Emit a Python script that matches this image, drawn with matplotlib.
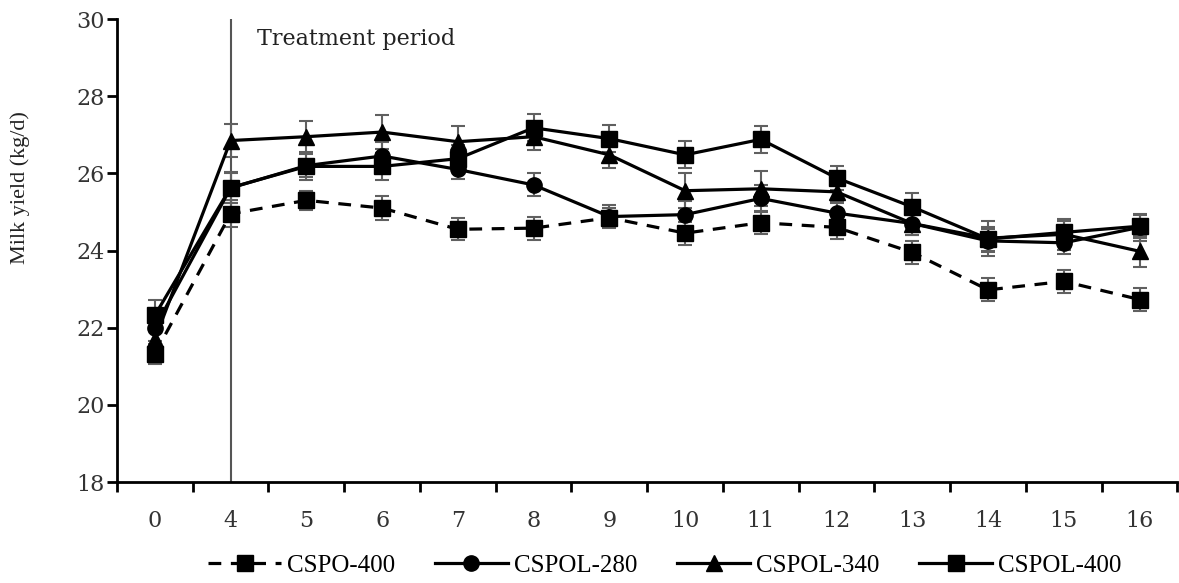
import matplotlib
matplotlib.use("Agg")
import matplotlib.pyplot as plt
import numpy as np

plt.rcParams['font.family'] = ['Liberation Serif', 'DejaVu Serif']

weeks = ["0", "4", "5", "6", "7", "8", "9", "10", "11", "12", "13", "14", "15", "16"]

cspo_400 = [21.32, 24.95, 25.3, 25.1, 24.55, 24.58, 24.85, 24.45, 24.72, 24.6, 23.95, 22.98, 23.2, 22.73]
cspo_400_se = [0.25, 0.35, 0.25, 0.3, 0.28, 0.3, 0.25, 0.3, 0.3, 0.3, 0.3, 0.3, 0.3, 0.3]

cspol_280 = [22.0, 25.62, 26.2, 26.45, 26.1, 25.7, 24.88, 24.93, 25.35, 24.97, 24.7, 24.25, 24.2, 24.6]
cspol_280_se = [0.35, 0.4, 0.3, 0.35, 0.25, 0.3, 0.3, 0.35, 0.35, 0.3, 0.3, 0.3, 0.3, 0.35]

cspol_340 = [21.7, 26.85, 26.95, 27.07, 26.82, 26.95, 26.48, 25.55, 25.6, 25.52, 24.7, 24.32, 24.42, 23.98]
cspol_340_se = [0.35, 0.42, 0.4, 0.45, 0.42, 0.35, 0.35, 0.45, 0.45, 0.3, 0.3, 0.45, 0.4, 0.4]

cspol_400 = [22.32, 25.63, 26.18, 26.18, 26.38, 27.18, 26.9, 26.48, 26.88, 25.88, 25.13, 24.3, 24.47, 24.63]
cspol_400_se = [0.4, 0.4, 0.35, 0.35, 0.35, 0.35, 0.35, 0.35, 0.35, 0.3, 0.35, 0.3, 0.3, 0.3]

fig = plt.figure(figsize=(11.79, 5.83), dpi=100)
ax = fig.add_axes([0.0992, 0.1732, 0.8995, 0.7942])

x = np.arange(len(weeks))
err_color = "#606060"

series = [
    ("CSPO-400", cspo_400, cspo_400_se, "s", (0, (4, 3))),
    ("CSPOL-280", cspol_280, cspol_280_se, "o", "-"),
    ("CSPOL-340", cspol_340, cspol_340_se, "^", "-"),
    ("CSPOL-400", cspol_400, cspol_400_se, "s", "-"),
]

handles = []
for name, vals, se, mk, ls in series:
    ax.errorbar(x, vals, yerr=se, fmt="none", ecolor=err_color, elinewidth=1.5,
                capsize=5, capthick=1.5, zorder=2)
    ms = 12 if mk in ("s", "^") else 11
    h, = ax.plot(x, vals, color="black", linestyle=ls, linewidth=2.3, marker=mk,
                 markersize=ms, markerfacecolor="black", markeredgecolor="black",
                 label=name, zorder=3)
    handles.append(h)

tick_font = ['DejaVu Serif']

ax.axvline(1, color="#555555", linewidth=1.5, zorder=1)
ax.text(1.35, 29.47, "Treatment period", fontsize=16, ha="left", va="center",
        color="#222222", family=tick_font)

ax.set_xlim(-0.5, len(weeks) - 0.5)
ax.set_ylim(18, 30)
ax.set_yticks(np.arange(18, 31, 2))
ax.set_xticks(x)
ax.set_xticklabels(weeks)
ax.set_xticks(np.arange(-0.5, len(weeks), 1), minor=True)
ax.tick_params(axis="x", which="major", length=0, pad=20, labelsize=16, colors="#333333")
ax.tick_params(axis="x", which="minor", length=7, width=2, direction="out", color="black")
ax.tick_params(axis="y", length=7, width=2, direction="out", labelsize=16, pad=2,
               colors="#333333")
for lbl in ax.get_yticklabels() + ax.get_xticklabels():
    lbl.set_color("#333333")
    lbl.set_family(tick_font)
ax.tick_params(axis="y", color="black")
ax.tick_params(axis="x", which="minor", color="black")

for s in ["top", "right"]:
    ax.spines[s].set_visible(False)
for s in ["left", "bottom"]:
    ax.spines[s].set_linewidth(2)

ax.set_ylabel("Milk yield (kg/d)", fontsize=16, color="#222222")
ax.yaxis.set_label_coords(-0.082, 0.637)

fig.legend(handles=handles, loc="center", bbox_to_anchor=(0.564, 0.03), ncol=4,
           frameon=False, fontsize=18, handlelength=2.9, columnspacing=1.6,
           handletextpad=0.25)

fig.savefig("out.png", dpi=100)
